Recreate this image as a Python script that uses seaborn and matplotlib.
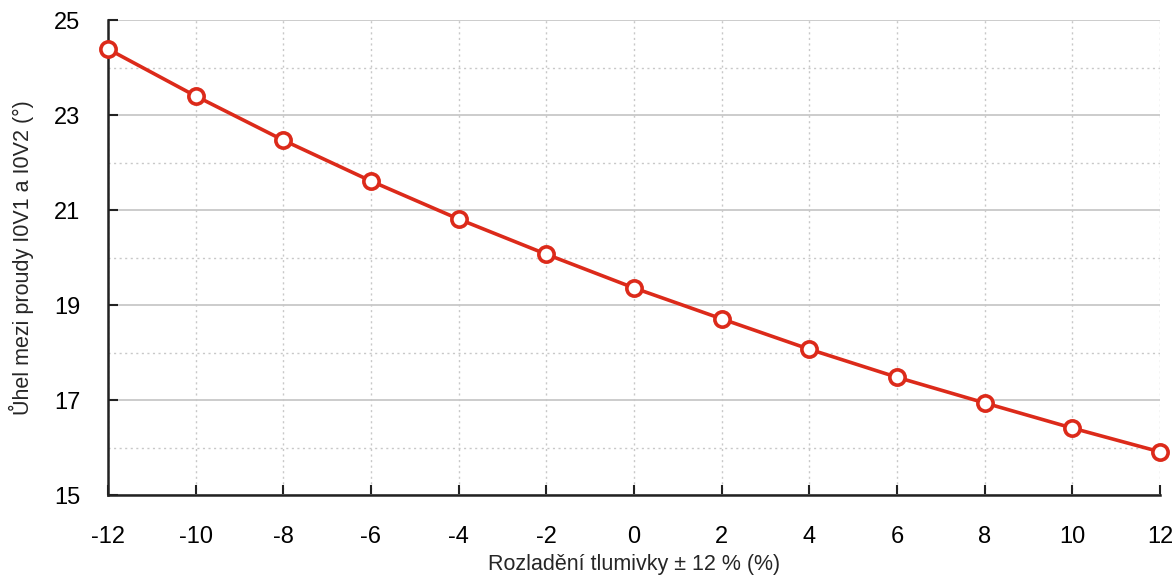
import pandas as pd
import matplotlib
matplotlib.use("Agg")
import matplotlib.pyplot as plt
import seaborn as sns
from matplotlib.ticker import MultipleLocator

# Data
detuning = [-12, -10, -8, -6, -4, -2, 0, 2, 4, 6, 8, 10, 12]
angle = [24.39, 23.40, 22.47, 21.61, 20.81, 20.07, 19.36, 18.71, 18.07, 17.48, 16.94, 16.41, 15.91]
x_ticks = list(range(-12, 13, 2))
y_ticks = [15, 17, 19, 21, 23, 25]

df = pd.DataFrame({"x": detuning, "y": angle})

sns.set_style("white")
plt.rcParams['font.family'] = ['Liberation Sans', 'DejaVu Sans']
plt.rcParams['axes.unicode_minus'] = False

fig = plt.figure(figsize=(11.76, 5.77), dpi=100)
ax = fig.add_axes([0.0918, 0.142, 0.8946, 0.8233])

red = "#dc2a1a"
sns.lineplot(data=df, x="x", y="y", ax=ax, color=red, linewidth=2.6,
             marker="o", markersize=11, markerfacecolor="white",
             markeredgecolor=red, markeredgewidth=2.6, zorder=5, clip_on=False)

ax.set_xlim(-12, 12)
ax.set_ylim(15, 25)
ax.set_xticks(x_ticks)
ax.set_yticks(y_ticks)
ax.yaxis.set_minor_locator(MultipleLocator(1))

# grid
ax.grid(axis="y", which="major", color="#c8c8c8", linewidth=1.3, linestyle="-")
ax.grid(axis="y", which="minor", color="#c8c8c8", linewidth=1.0, linestyle=(0, (1.5, 2.5)))
ax.grid(axis="x", which="major", color="#c8c8c8", linewidth=1.0, linestyle=(0, (1.5, 2.5)))
ax.set_axisbelow(True)

for side in ["top", "right"]:
    ax.spines[side].set_visible(False)
for side in ["left", "bottom"]:
    ax.spines[side].set_color("#222222")
    ax.spines[side].set_linewidth(1.8)

ax.tick_params(axis="both", which="major", direction="in", length=7, width=1.5,
               colors="#222222", labelsize=17, labelcolor="black",
               bottom=True, left=True)
ax.tick_params(axis="x", pad=22)
ax.tick_params(axis="y", pad=20)
ax.tick_params(axis="y", which="minor", length=0)

ax.set_xlabel("Rozladění tlumivky ± 12 % (%)", fontsize=15.5, va="baseline")
ax.xaxis.set_label_coords(0.5, -0.158)
ax.set_ylabel("Ůhel mezi proudy I0V1 a I0V2 (°)", fontsize=15.5, labelpad=14)

fig.savefig("out.png", dpi=100)
